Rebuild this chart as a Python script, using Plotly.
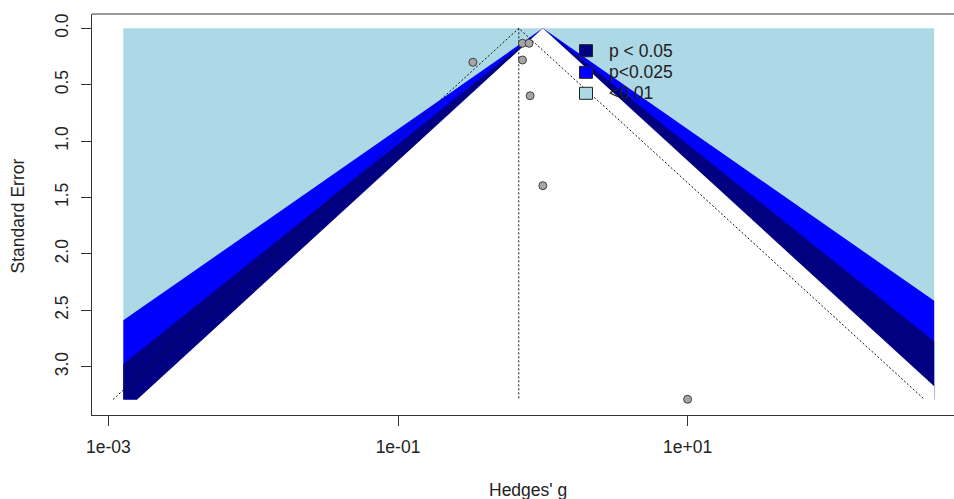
import math
from statistics import NormalDist
import plotly.graph_objects as go

# ---- data ----
g_values = [0.329, 0.723, 0.803, 0.723, 0.817, 1.00, 9.98]
se_values = [0.301, 0.133, 0.133, 0.281, 0.598, 1.395, 3.289]
pooled_g = 0.682
se_max = 3.29
shade_xlim = [0.00127, 503.0]
contour_p = [0.05, 0.025, 0.01]
contour_labels = ["p < 0.05", "p<0.025", "<0.01"]
contour_colors = ["#000080", "#0000FF", "#ADD8E6"]
x_tickvals = [0.001, 0.1, 10]
x_ticktext = ["1e-03", "1e-01", "1e+01"]
y_tickvals = [0.0, 0.5, 1.0, 1.5, 2.0, 2.5, 3.0]

FONT = "Liberation Sans, Arial, sans-serif"
FS = 17.5
TXT = "#222222"

# plot area in pixels
W, H = 954, 499
L, R, T, B = 92, 954, 14, 415

def px_x(px):
    return (px - L) / (R - L)

def px_y(py):
    return (B - py) / (B - T)

fig = go.Figure()

xl = math.log(shade_xlim[0])
xr = math.log(shade_xlim[1])

def region(z, extra=0.0):
    # inside |x| < z*se, clipped to [xl, xr] x [0, se_max]  (ln space)
    bot = se_max + extra
    xs, ys = [0.0], [0.0]
    if z * se_max > xr:
        xs += [xr, xr]; ys += [xr / z, bot]
    else:
        xs += [z * se_max, z * se_max]; ys += [se_max, bot]
    if z * se_max > -xl:
        xs += [xl, xl]; ys += [bot, -xl / z]
    else:
        xs += [-z * se_max, -z * se_max]; ys += [bot, se_max]
    xs.append(0.0); ys.append(0.0)
    return [math.exp(v) for v in xs], ys

# outer rectangle (p < 0.01 colour)
fig.add_trace(go.Scatter(
    x=[shade_xlim[0], shade_xlim[1], shade_xlim[1], shade_xlim[0], shade_xlim[0]],
    y=[0, 0, se_max, se_max, 0], mode="lines", fill="toself",
    fillcolor=contour_colors[2], line=dict(width=0), hoverinfo="skip", showlegend=False))

zs = [NormalDist().inv_cdf(1 - p / 2) for p in contour_p]
fills = [contour_colors[1], contour_colors[0], "#FFFFFF"]
extras = [0.0, 0.0, 0.06]
for z, col, ex in zip([zs[2], zs[1], zs[0]], fills, extras):
    xs, ys = region(z, ex)
    fig.add_trace(go.Scatter(x=xs, y=ys, mode="lines", fill="toself", fillcolor=col,
                             line=dict(width=0), hoverinfo="skip", showlegend=False))

# pseudo confidence funnel around pooled estimate
lp = math.log(pooled_g)
z95 = zs[0]
dot = dict(color="#111111", width=1, dash="2px,2px")
fig.add_trace(go.Scatter(x=[pooled_g, pooled_g], y=[0, se_max], mode="lines", line=dot,
                         hoverinfo="skip", showlegend=False))
fig.add_trace(go.Scatter(
    x=[math.exp(lp - z95 * se_max), pooled_g, math.exp(lp + z95 * se_max)],
    y=[se_max, 0, se_max], mode="lines", line=dot, hoverinfo="skip", showlegend=False))

# studies
fig.add_trace(go.Scatter(x=g_values, y=se_values, mode="markers",
                         marker=dict(size=8, color="#A6A6A6", line=dict(color="#404040", width=1)),
                         showlegend=False))

shapes = []
annotations = []
# top border (right side is cropped in the reference)
shapes.append(dict(type="line", xref="paper", yref="paper", x0=0, x1=1, y0=1, y1=1,
                   line=dict(color="#333333", width=1)))

# legend
leg_y = [50.7, 72.3, 93.3]
for lab, col, cy in zip(contour_labels, contour_colors, leg_y):
    shapes.append(dict(type="rect", xref="paper", yref="paper",
                       x0=px_x(579.5), x1=px_x(592.5), y0=px_y(cy + 6), y1=px_y(cy - 6),
                       fillcolor=col, line=dict(color="#222222", width=1)))
    annotations.append(dict(text=lab, xref="paper", yref="paper", x=px_x(607), y=px_y(cy),
                            xanchor="left", yanchor="middle", showarrow=False,
                            font=dict(family=FONT, size=FS, color=TXT)))

annotations.append(dict(text="Hedges' g", xref="paper", yref="paper", x=px_x(528), y=px_y(490),
                        xanchor="center", yanchor="middle", showarrow=False,
                        font=dict(family=FONT, size=FS, color=TXT)))
annotations.append(dict(text="Standard Error", xref="paper", yref="paper", x=px_x(17.5),
                        y=px_y(216), xanchor="center", yanchor="middle", textangle=-90,
                        showarrow=False, font=dict(family=FONT, size=FS, color=TXT)))

fig.update_layout(
    width=W, height=H,
    margin=dict(l=L, r=W - R, t=T, b=H - B, pad=0),
    paper_bgcolor="white", plot_bgcolor="white",
    shapes=shapes, annotations=annotations,
    xaxis=dict(type="log", range=[-3.1125, 2.8384], tickvals=x_tickvals, ticktext=x_ticktext,
               showgrid=False, zeroline=False, showline=True, linecolor="#333333", linewidth=1,
               ticks="outside", ticklen=10, tickcolor="#333333", tickwidth=1,
               tickfont=dict(family=FONT, size=FS, color=TXT), ticklabelstandoff=6),
    yaxis=dict(range=[3.4282, -0.1268], tickvals=y_tickvals,
               ticktext=["0.0", "0.5", "1.0", "1.5", "2.0", "2.5", "3.0"],
               showgrid=False, zeroline=False, showline=True, linecolor="#333333", linewidth=1,
               ticks="outside", ticklen=10, tickcolor="#333333", tickwidth=1, tickangle=-90,
               tickfont=dict(family=FONT, size=FS, color=TXT), ticklabelstandoff=6),
)

fig.write_html("out.html", config={"displayModeBar": False},
               post_script="document.body.style.margin='0';document.body.style.padding='0';")
